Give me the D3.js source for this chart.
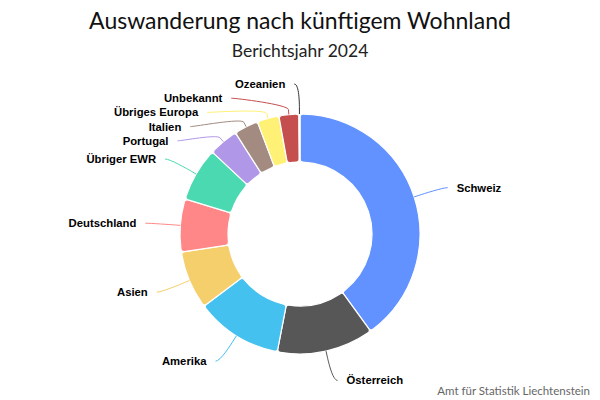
<!DOCTYPE html>
<html>
<head>
<meta charset="utf-8">
<script src="https://cdn.jsdelivr.net/npm/d3@7"></script>
<style>
  body { margin: 0; background: #fff; }
  #chart text { font-family: "Liberation Sans", Arial, sans-serif; }
</style>
</head>
<body>
<div id="chart"></div>
<script>
// data (Auswanderung nach künftigem Wohnland, 2024)
var laender = ["Schweiz", "Österreich", "Amerika", "Asien", "Deutschland", "Übriger EWR",
               "Portugal", "Italien", "Übriges Europa", "Unbekannt", "Ozeanien"];
var personen = [270, 88, 79, 53, 48, 49, 27, 22, 20, 18, 1];
var farben = ["#6192ff", "#575757", "#45c1f0", "#f5cf6b", "#ff8787", "#4bd9b2",
              "#b197e7", "#a38b82", "#fff176", "#c54e4e", "#333333"];

var width = 600, height = 400;
var cx = 300, cy = 234, radius = 120, innerRadius = radius * 0.6;
var labelDistance = 30, lineHeight = 14.2;

var svg = d3.select("#chart")
  .append("svg")
    .attr("width", width)
    .attr("height", height);

// title + subtitle
svg.append("text")
  .attr("x", width / 2).attr("y", 29)
  .attr("text-anchor", "middle")
  .style("font-family", "Lato, 'Noto Sans', sans-serif")
  .style("font-size", "23px")
  .style("fill", "#111")
  .text("Auswanderung nach künftigem Wohnland");

svg.append("text")
  .attr("x", width / 2).attr("y", 57)
  .attr("text-anchor", "middle")
  .style("font-family", "Lato, 'Noto Sans', sans-serif")
  .style("font-size", "17.5px")
  .style("fill", "#222")
  .text("Berichtsjahr 2024");

var data = laender.map(function(d, i) { return {name: d, value: personen[i], color: farben[i]}; });

var pie = d3.pie()
  .value(function(d) { return d.value; })
  .sort(null);

var arcs = pie(data);

var arc = d3.arc()
  .innerRadius(innerRadius)
  .outerRadius(radius)
  .cornerRadius(3);

var g = svg.append("g")
  .attr("transform", "translate(" + cx + "," + cy + ")");

g.selectAll("path.slice")
  .data(arcs)
  .enter()
  .append("path")
    .attr("class", "slice")
    .attr("d", arc)
    .style("fill", function(d) { return d.data.color; })
    .style("stroke", "#fff")
    .style("stroke-width", 1.2);

// label positions (pie-style: natural spot at radius + distance, then pushed apart)
var R = radius + labelDistance;
arcs.forEach(function(d) {
  var a = (d.startAngle + d.endAngle) / 2;
  d.mid = a;
  d.left = a > Math.PI;
  d.ny = -Math.cos(a) * R;
  d.touch = [Math.sin(a) * radius, -Math.cos(a) * radius];
  d.brk = [Math.sin(a) * (radius + 5), -Math.cos(a) * (radius + 5)];
});

[true, false].forEach(function(side) {
  var list = arcs.filter(function(d) { return d.left === side; })
    .sort(function(a, b) { return a.ny - b.ny; });
  var prev = -Infinity;
  list.forEach(function(d) {
    d.ly = Math.max(d.ny, prev + lineHeight);
    prev = d.ly;
  });
});

arcs.forEach(function(d) {
  var s = d.left ? -1 : 1;
  var dy = Math.max(-R, Math.min(R, d.ly));
  var gx = s * Math.sqrt(R * R - dy * dy);
  d.ax = gx + s * 5;
  d.tx = gx + s * 14;
});

g.selectAll("path.connector")
  .data(arcs)
  .enter()
  .append("path")
    .attr("class", "connector")
    .attr("d", function(d) {
      var s = d.left ? -1 : 1;
      return "M" + d.ax + "," + d.ly +
        "C" + (d.ax - s * 5) + "," + d.ly + " " +
        (2 * d.brk[0] - d.touch[0]) + "," + (2 * d.brk[1] - d.touch[1]) + " " +
        d.brk[0] + "," + d.brk[1] +
        "L" + d.touch[0] + "," + d.touch[1];
    })
    .style("fill", "none")
    .style("stroke", function(d) { return d.data.color; })
    .style("stroke-width", 1);

g.selectAll("text.label")
  .data(arcs)
  .enter()
  .append("text")
    .attr("class", "label")
    .attr("x", function(d) { return d.tx; })
    .attr("y", function(d) { return d.ly + 4; })
    .attr("text-anchor", function(d) { return d.left ? "end" : "start"; })
    .style("font-size", "11.3px")
    .style("font-weight", "bold")
    .style("fill", "#000")
    .text(function(d) { return d.data.name; });

// credits
svg.append("text")
  .attr("x", 590).attr("y", 395)
  .attr("text-anchor", "end")
  .style("font-family", "Lato, 'Noto Sans', sans-serif")
  .style("font-size", "11.5px")
  .style("fill", "#666")
  .text("Amt für Statistik Liechtenstein");
</script>
</body>
</html>
